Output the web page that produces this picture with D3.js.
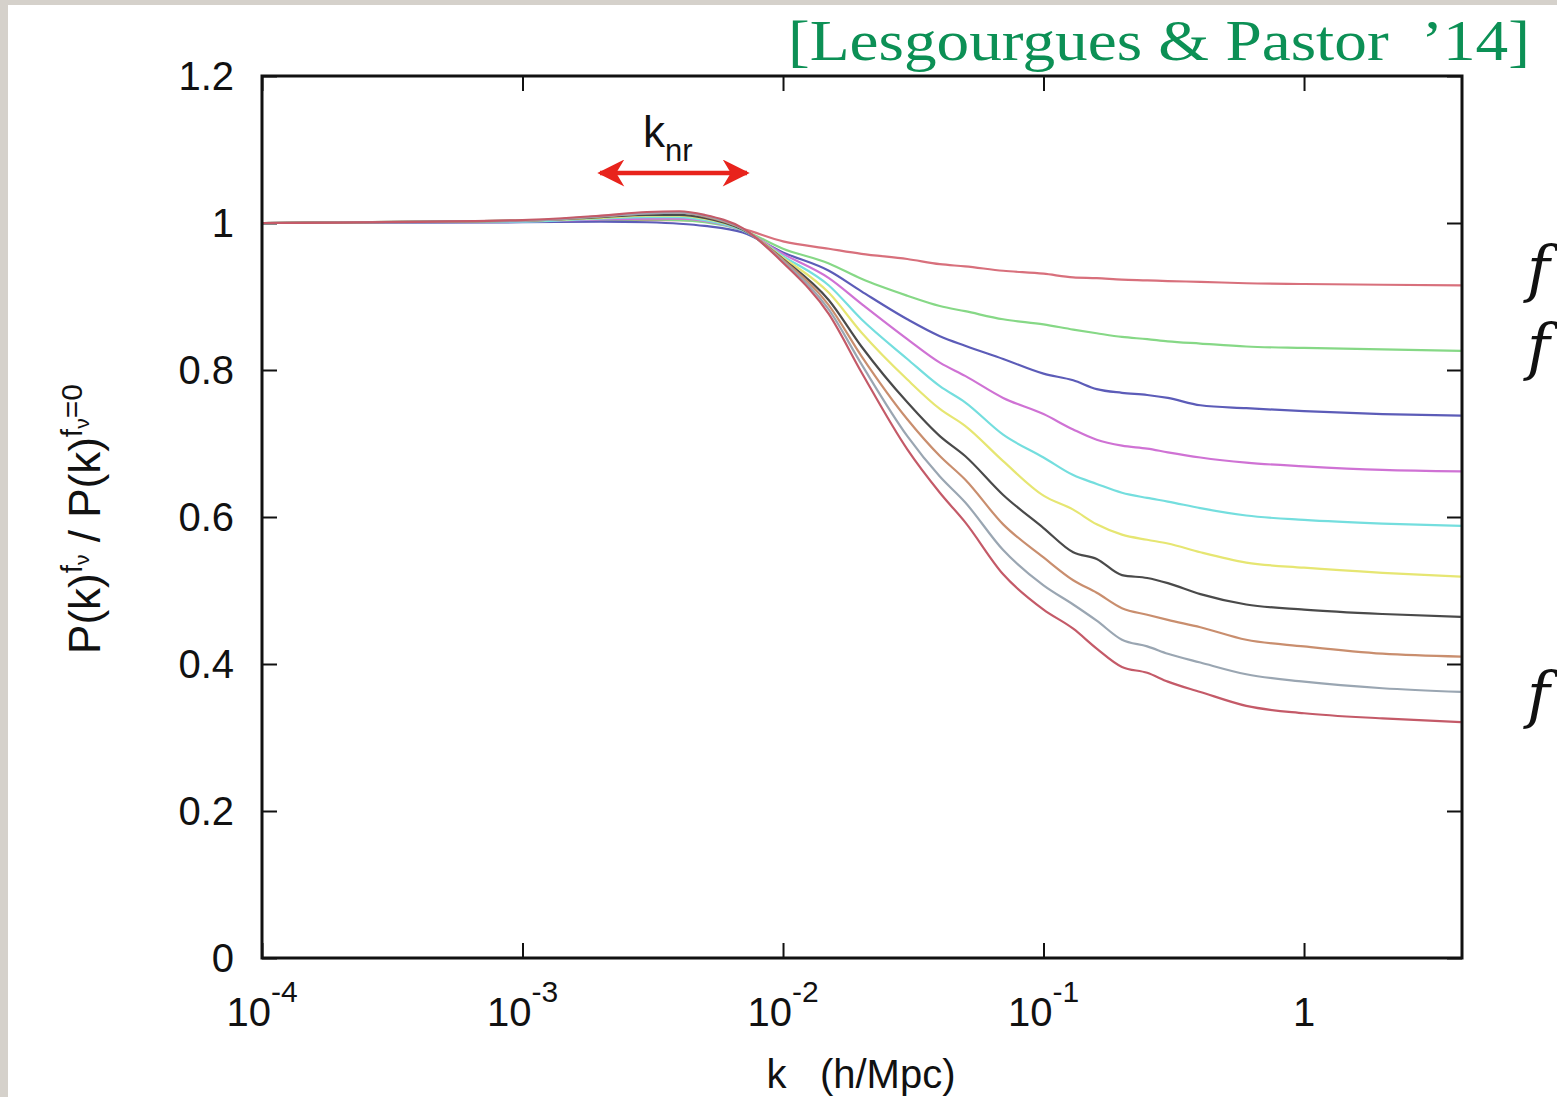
<!DOCTYPE html>
<html>
<head>
<meta charset="utf-8">
<script src="https://cdn.jsdelivr.net/npm/d3@7"></script>
<style>
  body { margin: 0; background: #fff; }
  svg { display: block; }
</style>
</head>
<body>
<div id="chart"></div>
<script>
// boiler plate
const svgWidth = 1557
const svgHeight = 1097

let margin = { top: 76, right: 95, bottom: 139, left: 262 }
let width = svgWidth - margin.left - margin.right
let height = svgHeight - margin.top - margin.bottom

// k grid (h/Mpc), shared by every curve
const kValues = [1e-4, 1e-3, 2e-3, 3e-3, 4e-3, 5e-3, 7e-3, 1e-2, 1.5e-2, 2e-2, 3e-2, 4e-2, 5e-2, 7e-2,
  0.1, 0.13, 0.16, 0.2, 0.25, 0.3, 0.4, 0.6, 1, 2, 4]

// ratio P(k)^fnu / P(k)^fnu=0, one list per curve (top to bottom at large k)
const ratio1  = [1, 1.002, 1.003, 1.004, 1.004, 1.002, 0.992, 0.975, 0.965, 0.958, 0.951, 0.944, 0.941, 0.935, 0.931, 0.926, 0.925, 0.923, 0.922, 0.921, 0.920, 0.918, 0.917, 0.916, 0.915]
const ratio2  = [1, 1.002, 1.004, 1.005, 1.004, 1.001, 0.990, 0.965, 0.945, 0.924, 0.901, 0.887, 0.880, 0.869, 0.862, 0.855, 0.850, 0.845, 0.842, 0.839, 0.836, 0.832, 0.830, 0.828, 0.826]
const ratio3  = [1, 1.001, 1.002, 1.001, 0.999, 0.996, 0.987, 0.960, 0.935, 0.907, 0.869, 0.846, 0.833, 0.815, 0.795, 0.786, 0.774, 0.769, 0.766, 0.762, 0.752, 0.748, 0.744, 0.740, 0.738]
const ratio4  = [1, 1.002, 1.005, 1.006, 1.006, 1.003, 0.990, 0.958, 0.925, 0.890, 0.842, 0.810, 0.792, 0.762, 0.740, 0.719, 0.705, 0.697, 0.693, 0.688, 0.681, 0.674, 0.669, 0.664, 0.662]
const ratio5  = [1, 1.002, 1.006, 1.008, 1.008, 1.004, 0.990, 0.955, 0.915, 0.869, 0.815, 0.778, 0.756, 0.712, 0.681, 0.657, 0.645, 0.633, 0.626, 0.621, 0.612, 0.602, 0.596, 0.591, 0.588]
const ratio6  = [1, 1.003, 1.007, 1.010, 1.010, 1.006, 0.991, 0.953, 0.905, 0.851, 0.787, 0.747, 0.724, 0.676, 0.629, 0.610, 0.590, 0.576, 0.569, 0.564, 0.552, 0.538, 0.531, 0.524, 0.519]
const ratio7  = [1, 1.003, 1.008, 1.011, 1.011, 1.007, 0.991, 0.951, 0.895, 0.832, 0.756, 0.710, 0.683, 0.630, 0.585, 0.552, 0.543, 0.521, 0.517, 0.510, 0.495, 0.481, 0.474, 0.468, 0.464]
const ratio8  = [1, 1.003, 1.009, 1.013, 1.014, 1.009, 0.992, 0.950, 0.888, 0.819, 0.733, 0.683, 0.651, 0.590, 0.545, 0.514, 0.497, 0.476, 0.467, 0.460, 0.450, 0.433, 0.424, 0.414, 0.410]
const ratio9  = [1, 1.003, 1.009, 1.013, 1.014, 1.010, 0.992, 0.948, 0.882, 0.808, 0.710, 0.655, 0.620, 0.555, 0.507, 0.481, 0.459, 0.433, 0.424, 0.414, 0.402, 0.386, 0.376, 0.367, 0.362]
const ratio10 = [1, 1.004, 1.010, 1.015, 1.016, 1.011, 0.993, 0.946, 0.876, 0.797, 0.692, 0.633, 0.593, 0.522, 0.474, 0.448, 0.421, 0.396, 0.388, 0.376, 0.362, 0.343, 0.333, 0.326, 0.321]

const seriesList = [ratio1, ratio2, ratio3, ratio4, ratio5, ratio6, ratio7, ratio8, ratio9, ratio10]
const seriesColors = ["#d8707c", "#86d886", "#5c5cb8", "#cf72d4", "#74dede",
  "#e6e672", "#4a4a4a", "#c98e6e", "#9aa6b2", "#c45a68"]

const yTicks = [0, 0.2, 0.4, 0.6, 0.8, 1, 1.2]
const yTickLabels = ["0", "0.2", "0.4", "0.6", "0.8", "1", "1.2"]
const xTicks = [1e-4, 1e-3, 1e-2, 1e-1, 1]
const xTickBase = ["10", "10", "10", "10", "1"]
const xTickExp = ["-4", "-3", "-2", "-1", ""]

let svg = d3.select("#chart")
  .append("svg")
  .attr("width", svgWidth)
  .attr("height", svgHeight)

// textured slide edge (left and top)
svg.append("rect").attr("x", 0).attr("y", 0).attr("width", svgWidth).attr("height", 5).attr("fill", "#d5d1cb")
svg.append("rect").attr("x", 0).attr("y", 0).attr("width", 8).attr("height", svgHeight).attr("fill", "#d5d1cb")

let chartGroup = svg.append("g")
  .attr("transform", `translate(${margin.left}, ${margin.top})`)

let xScale = d3.scaleLog()
  .domain([1e-4, 4.04])
  .range([0, width])

let yScale = d3.scaleLinear()
  .domain([0, 1.2])
  .range([height, 0])

// inward ticks on all four sides
chartGroup.append("g")
  .attr("transform", `translate(0, ${height})`)
  .call(d3.axisBottom(xScale).tickValues(xTicks).tickSize(-15).tickFormat(""))
chartGroup.append("g")
  .call(d3.axisTop(xScale).tickValues(xTicks).tickSize(-15).tickFormat(""))
chartGroup.append("g")
  .call(d3.axisLeft(yScale).tickValues(yTicks).tickSize(-15).tickFormat(""))
chartGroup.append("g")
  .attr("transform", `translate(${width}, 0)`)
  .call(d3.axisRight(yScale).tickValues(yTicks).tickSize(-15).tickFormat(""))

chartGroup.selectAll(".domain").remove()
chartGroup.selectAll(".tick line").attr("stroke", "#111").attr("stroke-width", 2)

// curves
let line = d3.line()
  .x((d, i) => xScale(kValues[i]))
  .y(d => yScale(d))
  .curve(d3.curveMonotoneX)

chartGroup.selectAll(".curve")
  .data(seriesList)
  .enter()
  .append("path")
  .attr("class", "curve")
  .attr("d", line)
  .attr("fill", "none")
  .attr("stroke", (d, i) => seriesColors[i])
  .attr("stroke-width", 2.2)

// frame
chartGroup.append("rect")
  .attr("x", 0).attr("y", 0)
  .attr("width", width).attr("height", height)
  .attr("fill", "none")
  .attr("stroke", "#111")
  .attr("stroke-width", 3)

// y tick labels
chartGroup.selectAll(".ylab")
  .data(yTicks)
  .enter()
  .append("text")
  .attr("x", -28)
  .attr("y", d => yScale(d))
  .attr("dy", "0.36em")
  .attr("text-anchor", "end")
  .attr("font-family", "'Liberation Sans', Arial, sans-serif")
  .attr("font-size", 40)
  .attr("fill", "#111")
  .text((d, i) => yTickLabels[i])

// x tick labels with superscript exponents
let xLabs = chartGroup.selectAll(".xlab")
  .data(xTicks)
  .enter()
  .append("text")
  .attr("x", d => xScale(d))
  .attr("y", height + 68)
  .attr("text-anchor", "middle")
  .attr("font-family", "'Liberation Sans', Arial, sans-serif")
  .attr("font-size", 40)
  .attr("fill", "#111")
xLabs.append("tspan").text((d, i) => xTickBase[i])
xLabs.append("tspan")
  .attr("dy", -24)
  .attr("font-size", 30)
  .text((d, i) => xTickExp[i])

// axis titles
svg.append("text")
  .attr("x", 861)
  .attr("y", 1088)
  .attr("text-anchor", "middle")
  .attr("font-family", "'Liberation Sans', Arial, sans-serif")
  .attr("font-size", 40)
  .attr("fill", "#111")
  .style("white-space", "pre")
  .text("k   (h/Mpc)")

let yTitle = svg.append("text")
  .attr("transform", "translate(100, 519) rotate(-90)")
  .attr("text-anchor", "middle")
  .attr("font-family", "'Liberation Sans', Arial, sans-serif")
  .attr("font-size", 44)
  .attr("fill", "#111")
yTitle.append("tspan").text("P(k)")
yTitle.append("tspan").attr("dy", -18).attr("font-size", 30).text("f")
yTitle.append("tspan").attr("dy", 7).attr("font-size", 21).text("ν")
yTitle.append("tspan").attr("dy", 11).text(" / P(k)")
yTitle.append("tspan").attr("dy", -18).attr("font-size", 30).text("f")
yTitle.append("tspan").attr("dy", 7).attr("font-size", 21).text("ν")
yTitle.append("tspan").attr("dy", -7).attr("font-size", 30).text("=0")

// k_nr annotation with double arrow
let knr = svg.append("text")
  .attr("x", 643)
  .attr("y", 147)
  .attr("font-family", "'Liberation Sans', Arial, sans-serif")
  .attr("font-size", 44)
  .attr("fill", "#111")
knr.append("tspan").text("k")
knr.append("tspan").attr("dy", 14).attr("font-size", 31).text("nr")

let defs = svg.append("defs")
defs.append("marker")
  .attr("id", "head")
  .attr("viewBox", "0 0 10 10")
  .attr("refX", 9).attr("refY", 5)
  .attr("markerWidth", 8).attr("markerHeight", 6)
  .attr("markerUnits", "strokeWidth")
  .attr("orient", "auto-start-reverse")
  .append("path")
  .attr("d", "M0,0 L10,5 L0,10 L3,5 Z")
  .attr("fill", "#e8231c")

svg.append("line")
  .attr("x1", 600).attr("y1", 173)
  .attr("x2", 747).attr("y2", 173)
  .attr("stroke", "#e8231c")
  .attr("stroke-width", 4.5)
  .attr("marker-start", "url(#head)")
  .attr("marker-end", "url(#head)")

// citation
svg.append("text")
  .attr("x", 788)
  .attr("y", 60)
  .attr("font-family", "'Liberation Serif', 'Times New Roman', serif")
  .attr("font-size", 58)
  .attr("fill", "#0c9055")
  .attr("textLength", 742)
  .attr("lengthAdjust", "spacingAndGlyphs")
  .style("white-space", "pre")
  .text("[Lesgourgues & Pastor  ’14]")

// f labels on the right edge of the slide
const fLabelY = [290, 368, 716]
svg.selectAll(".flab")
  .data(fLabelY)
  .enter()
  .append("text")
  .attr("x", 1527)
  .attr("y", d => d)
  .attr("font-family", "'DejaVu Serif', 'Liberation Serif', serif")
  .attr("font-style", "italic")
  .attr("font-size", 62)
  .attr("fill", "#111")
  .text("f")
</script>
</body>
</html>
